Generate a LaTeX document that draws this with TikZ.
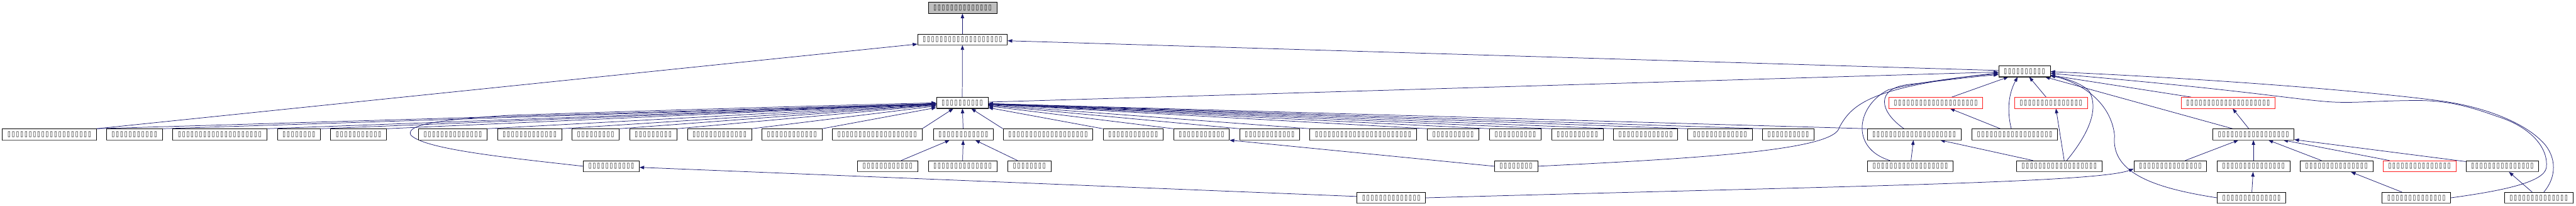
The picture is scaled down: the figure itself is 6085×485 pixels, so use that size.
\documentclass[tikz,border=0pt]{standalone}
\usepackage{fontspec}
\usepackage{graphicx}
\usetikzlibrary{arrows.meta,calc}
\newfontfamily\tofufont{DejaVu Sans}
\newcommand\tfc{\makebox[10pt]{\resizebox{7pt}{11pt}{\tofufont ▯}}}
\newcommand\tfs[1]{\ifnum#1>0 \tfc\expandafter\tfs\expandafter{\the\numexpr#1-1\relax}\fi}
\pgfdeclarelayer{bg}
\pgfsetlayers{bg,main}
\tikzset{
  nd/.style={draw=black, fill=white, line width=1pt, minimum height=26pt, inner xsep=11pt, inner ysep=0pt},
  ndred/.style={nd, draw={rgb,255:red,255;green,30;blue,30}},
  ndgray/.style={nd, fill={rgb,255:red,191;green,191;blue,191}},
  edg/.style={draw={rgb,255:red,25;green,25;blue,112}, line width=1.1pt, -{Triangle[length=11pt,width=8pt]}},
  btm/.style={draw={rgb,255:red,80;green,80;blue,80}, line width=1.6pt}
}
\newcommand\nd[5][nd]{\node[#1] (#2) at (#3,#4) {\tfs{#5}};}
\newcommand\ndb[4]{\nd{#1}{#2}{#3}{#4}\draw[btm] ($(#1.south west)+(0.5,-0.6)$) -- ($(#1.south east)+(-0.5,-0.6)$);}
\begin{document}
\begin{tikzpicture}[x=1pt,y=-1pt]
\useasboundingbox (0,0) rectangle (6085,485);
% rank 0-3
\nd[ndgray]{G}{2273.5}{18.5}{14}
\ndb{N2}{2273.5}{93}{19}
\ndb{B}{4782}{168}{10}
\ndb{A}{2273}{242.5}{10}
\nd[ndred]{R1}{4572.5}{242.5}{20}
\nd[ndred]{R2}{4844.5}{242.5}{15}
\nd[ndred]{R3}{5263}{242.5}{20}
% rank 4
\ndb{n1}{116.5}{317}{20}
\ndb{n2}{317.5}{317}{11}
\ndb{n3}{519}{317}{20}
\ndb{n4}{706}{317}{8}
\ndb{n5}{847}{317}{11}
\ndb{n6}{1069.5}{317}{14}
\ndb{n7}{1251}{317}{13}
\ndb{n8}{1407}{317}{9}
\ndb{n9}{1543}{317}{9}
\ndb{n10}{1699.5}{317}{13}
\ndb{n11}{1870.5}{317}{12}
\ndb{n12}{2072}{317}{19}
\ndb{n13}{2275.5}{317}{12}
\ndb{n14}{2475.5}{317}{19}
\ndb{n15}{2676.5}{317}{12}
\ndb{n16}{2838}{317}{11}
\ndb{n17}{2999}{317}{12}
\ndb{n18}{3220}{317}{23}
\ndb{n19}{3432.5}{317}{10}
\ndb{n20}{3579.5}{317}{10}
\ndb{n21}{3726}{317}{10}
\ndb{n22}{3887}{317}{13}
\ndb{n23}{4063}{317}{13}
\ndb{n24}{4224}{317}{10}
\ndb{n25}{4521.5}{317}{20}
\ndb{q2}{4759}{317}{18}
\ndb{q3}{5323}{317}{17}
% rank 5
\ndb{s1}{1444}{392}{11}
\ndb{c1}{2096.5}{392}{12}
\ndb{c2}{2273.5}{392}{14}
\ndb{c3}{2431.5}{392}{8}
\ndb{ma}{3581}{392}{8}
\ndb{p1}{4512.5}{392}{18}
\ndb{p2}{4864}{392}{18}
\ndb{p3}{5126.5}{392}{15}
\ndb{p4}{5323}{392}{15}
\ndb{p5}{5519}{392}{15}
\nd[ndred]{p6}{5715}{392}{15}
\ndb{p7}{5911}{392}{15}
% rank 6
\ndb{r0}{3286.5}{466.5}{14}
\ndb{r1}{5318.5}{466.5}{14}
\ndb{r2}{5708}{466.5}{14}
\ndb{r3}{5997}{466.5}{14}
\begin{pgfonlayer}{bg}
\fill[white] (0,0) rectangle (6085,485);
\draw[edg] (N2) -- (G);
\draw[edg] (A) -- (N2);
\draw[edg] (B) -- (N2);
\draw[edg] (n1.north east) -- (N2);
\draw[edg] (A) -- (B);
\foreach \i in {1,...,12} \draw[edg] (n\i.north east) -- (A);
\draw[edg] (n13) -- (A);
\foreach \i in {14,...,25} \draw[edg] (n\i.north west) -- (A);
\draw[edg] (c1) -- (n13);
\draw[edg] (c2) -- (n13);
\draw[edg] (c3) -- (n13);
\draw[edg] (s1.west) .. controls (1200,372) and (1000,352) .. (970,318) .. controls (958,292) and (1050,282) .. (1200,272) .. controls (1500,262) and (1900,250) .. (A.west);
\draw[edg] (r0) -- (s1);
\draw[edg] (r0.east) .. controls (4300,440) and (4950,432) .. ($(p3.west)+(0,6)$);
\draw[edg] (ma.west) -- (n16.south east);
\draw[edg] (ma.east) .. controls (4050,372) and (4335,352) .. (4345,300) .. controls (4375,245) and (4420,205) .. ($(B.west)+(0,4)$);
\draw[edg] ($(n25.north)+(-24,0)$) .. controls (4438,262) and (4430,208) .. (4510,199) .. controls (4590,190) and (4650,182) .. ($(B.west)+(0,8)$);
\draw[edg] ($(p1.north)+(-48,0)$) .. controls (4370,350) and (4385,250) .. (4460,212) .. controls (4520,196) and (4640,180) .. ($(B.west)+(0,6)$);
\draw[edg] (p1) -- (n25);
\draw[edg] (p2) -- (n25);
\draw[edg] ($(p2.north)+(12,0)$) -- ($(R2.south)+(12,0)$);
\draw[edg] ($(p2.north)+(18,0)$) .. controls (4930,320) and (4960,260) .. (4935,215) .. controls (4915,195) and (4880,185) .. ($(B.east)+(0,11)$);
\draw[edg] (R1) -- (B);
\draw[edg] (R2) -- (B);
\draw[edg] (R3) -- (B);
\draw[edg] (q2) -- (R1);
\draw[edg] ($(q2.north)+(-8,0)$) .. controls (4740,260) and (4745,220) .. ($(B.south)+(-16,0)$);
\draw[edg] (q3) -- (B);
\draw[edg] (q3) -- (R3);
\draw[edg] (p3) -- (q3);
\draw[edg] (p4) -- (q3);
\draw[edg] (p5) -- (q3);
\draw[edg] (p6) -- (q3);
\draw[edg] (p7) -- (q3);
\draw[edg] (r1) -- (p4);
\draw[edg] (r2) -- (p5);
\draw[edg] (r3) -- (p7);
\draw[edg] (r1.west) .. controls (5100,445) and (4985,412) .. (4995,320) .. controls (4988,250) and (4930,200) .. ($(B.east)+(0,9)$);
\draw[edg] ($(r3.north)+(12,0)$) .. controls (6045,410) and (6035,360) .. (6001,330) .. controls (5960,290) and (5870,250) .. (5750,236) .. controls (5500,205) and (5100,180) .. ($(B.east)+(0,1)$);
\draw[edg] (r2.east) .. controls (5910,450) and (6010,430) .. (6015,395) .. controls (6020,350) and (5980,300) .. (5900,275) .. controls (5830,250) and (5780,236) .. (5700,237) .. controls (5600,238) and (5560,244) .. (5500,240) .. controls (5400,232) and (5300,212) .. ($(B.east)+(0,5)$);
\end{pgfonlayer}
\end{tikzpicture}
\end{document}
